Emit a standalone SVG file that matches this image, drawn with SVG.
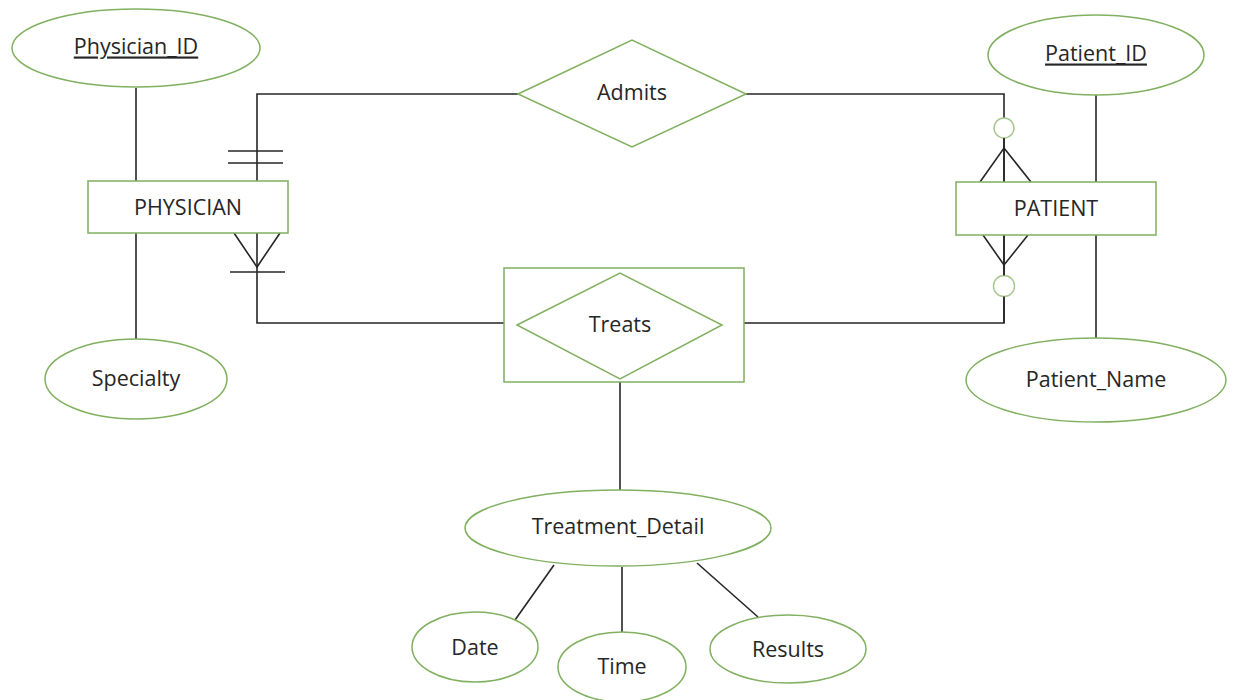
<svg xmlns="http://www.w3.org/2000/svg" width="1235" height="700" viewBox="0 0 1235 700">
  <style>
    .shape { fill: #ffffff; stroke: #80b060; stroke-width: 1.5; }
    .link { fill: none; stroke: #262626; stroke-width: 1.6; }
    .label { font-family: "Open Sans", "Liberation Sans", sans-serif; font-size: 21.5px; fill: #262626; text-anchor: middle; dominant-baseline: central; }
    .key { text-decoration: underline; }
  </style>
  <rect width="1235" height="700" fill="#ffffff"/>

  <!-- connectors -->
  <g id="connectors">
    <!-- attribute links -->
    <line class="link" x1="136" y1="88" x2="136" y2="181"/>
    <line class="link" x1="136" y1="233" x2="136" y2="339"/>
    <line class="link" x1="1096" y1="95" x2="1096" y2="182"/>
    <line class="link" x1="1096" y1="235" x2="1096" y2="339"/>
    <line class="link" x1="620" y1="382" x2="620" y2="490"/>
    <line class="link" x1="554" y1="565" x2="515" y2="620"/>
    <line class="link" x1="622" y1="567" x2="622" y2="633"/>
    <line class="link" x1="697" y1="563" x2="758" y2="617"/>

    <!-- Admits relationship -->
    <polyline class="link" points="257,181 257,94 518,94"/>
    <polyline class="link" points="746,94 1004,94 1004,182"/>
    <!-- Treats relationship -->
    <polyline class="link" points="257,233 257,323 504,323"/>
    <polyline class="link" points="744,323 1004,323 1004,235"/>

    <!-- PHYSICIAN side: one and only one (Admits) -->
    <line class="link" x1="228" y1="151" x2="283" y2="151"/>
    <line class="link" x1="228" y1="163" x2="283" y2="163"/>
    <!-- PHYSICIAN side: one or many (Treats) -->
    <polyline class="link" points="234,233 257,267 280,233"/>
    <line class="link" x1="230" y1="272" x2="285" y2="272"/>

    <!-- PATIENT side: zero or many (Admits) -->
    <circle cx="1004" cy="128" r="10" fill="#ffffff" stroke="#a8c890" stroke-width="1.5"/>
    <line class="link" x1="1004" y1="138" x2="1004" y2="182"/>
    <polyline class="link" points="980,182 1004,148 1031,182"/>
    <!-- PATIENT side: zero or many (Treats) -->
    <polyline class="link" points="983,235 1004,265 1028,235"/>
    <circle cx="1004" cy="286" r="10.5" fill="#ffffff" stroke="#a8c890" stroke-width="1.5"/>
    <line class="link" x1="1004" y1="235" x2="1004" y2="275.5"/>
    <line class="link" x1="1004" y1="296.5" x2="1004" y2="323"/>
  </g>

  <!-- entities -->
  <g id="physician">
    <rect class="shape" x="88" y="181" width="200" height="52"/>
    <text class="label" x="188" y="206">PHYSICIAN</text>
  </g>
  <g id="patient">
    <rect class="shape" x="956" y="182" width="200" height="53"/>
    <text class="label" x="1056" y="207">PATIENT</text>
  </g>

  <!-- relationships -->
  <g id="admits">
    <polygon class="shape" points="518,94 632,40 746,94 632,147"/>
    <text class="label" x="632" y="91">Admits</text>
  </g>
  <g id="treats">
    <rect class="shape" x="504" y="268" width="240" height="114"/>
    <polygon class="shape" points="517,325 620,273 722,325 620,379"/>
    <text class="label" x="620" y="323">Treats</text>
  </g>

  <!-- attributes -->
  <g id="physician-id">
    <ellipse class="shape" cx="136" cy="48" rx="124" ry="39"/>
    <text class="label key" x="136" y="45">Physician_ID</text>
  </g>
  <g id="specialty">
    <ellipse class="shape" cx="136" cy="379" rx="91" ry="40"/>
    <text class="label" x="136" y="377">Specialty</text>
  </g>
  <g id="patient-id">
    <ellipse class="shape" cx="1096" cy="55" rx="108" ry="40"/>
    <text class="label key" x="1096" y="52">Patient_ID</text>
  </g>
  <g id="patient-name">
    <ellipse class="shape" cx="1096" cy="380" rx="130" ry="42"/>
    <text class="label" x="1096" y="378">Patient_Name</text>
  </g>
  <g id="treatment-detail">
    <ellipse class="shape" cx="618" cy="528" rx="153" ry="38"/>
    <text class="label" x="618" y="525">Treatment_Detail</text>
  </g>
  <g id="date">
    <ellipse class="shape" cx="475" cy="647" rx="63" ry="35"/>
    <text class="label" x="475" y="646">Date</text>
  </g>
  <g id="time">
    <ellipse class="shape" cx="622" cy="667" rx="64" ry="35"/>
    <text class="label" x="622" y="665">Time</text>
  </g>
  <g id="results">
    <ellipse class="shape" cx="788" cy="649" rx="78" ry="34"/>
    <text class="label" x="788" y="648">Results</text>
  </g>
</svg>
